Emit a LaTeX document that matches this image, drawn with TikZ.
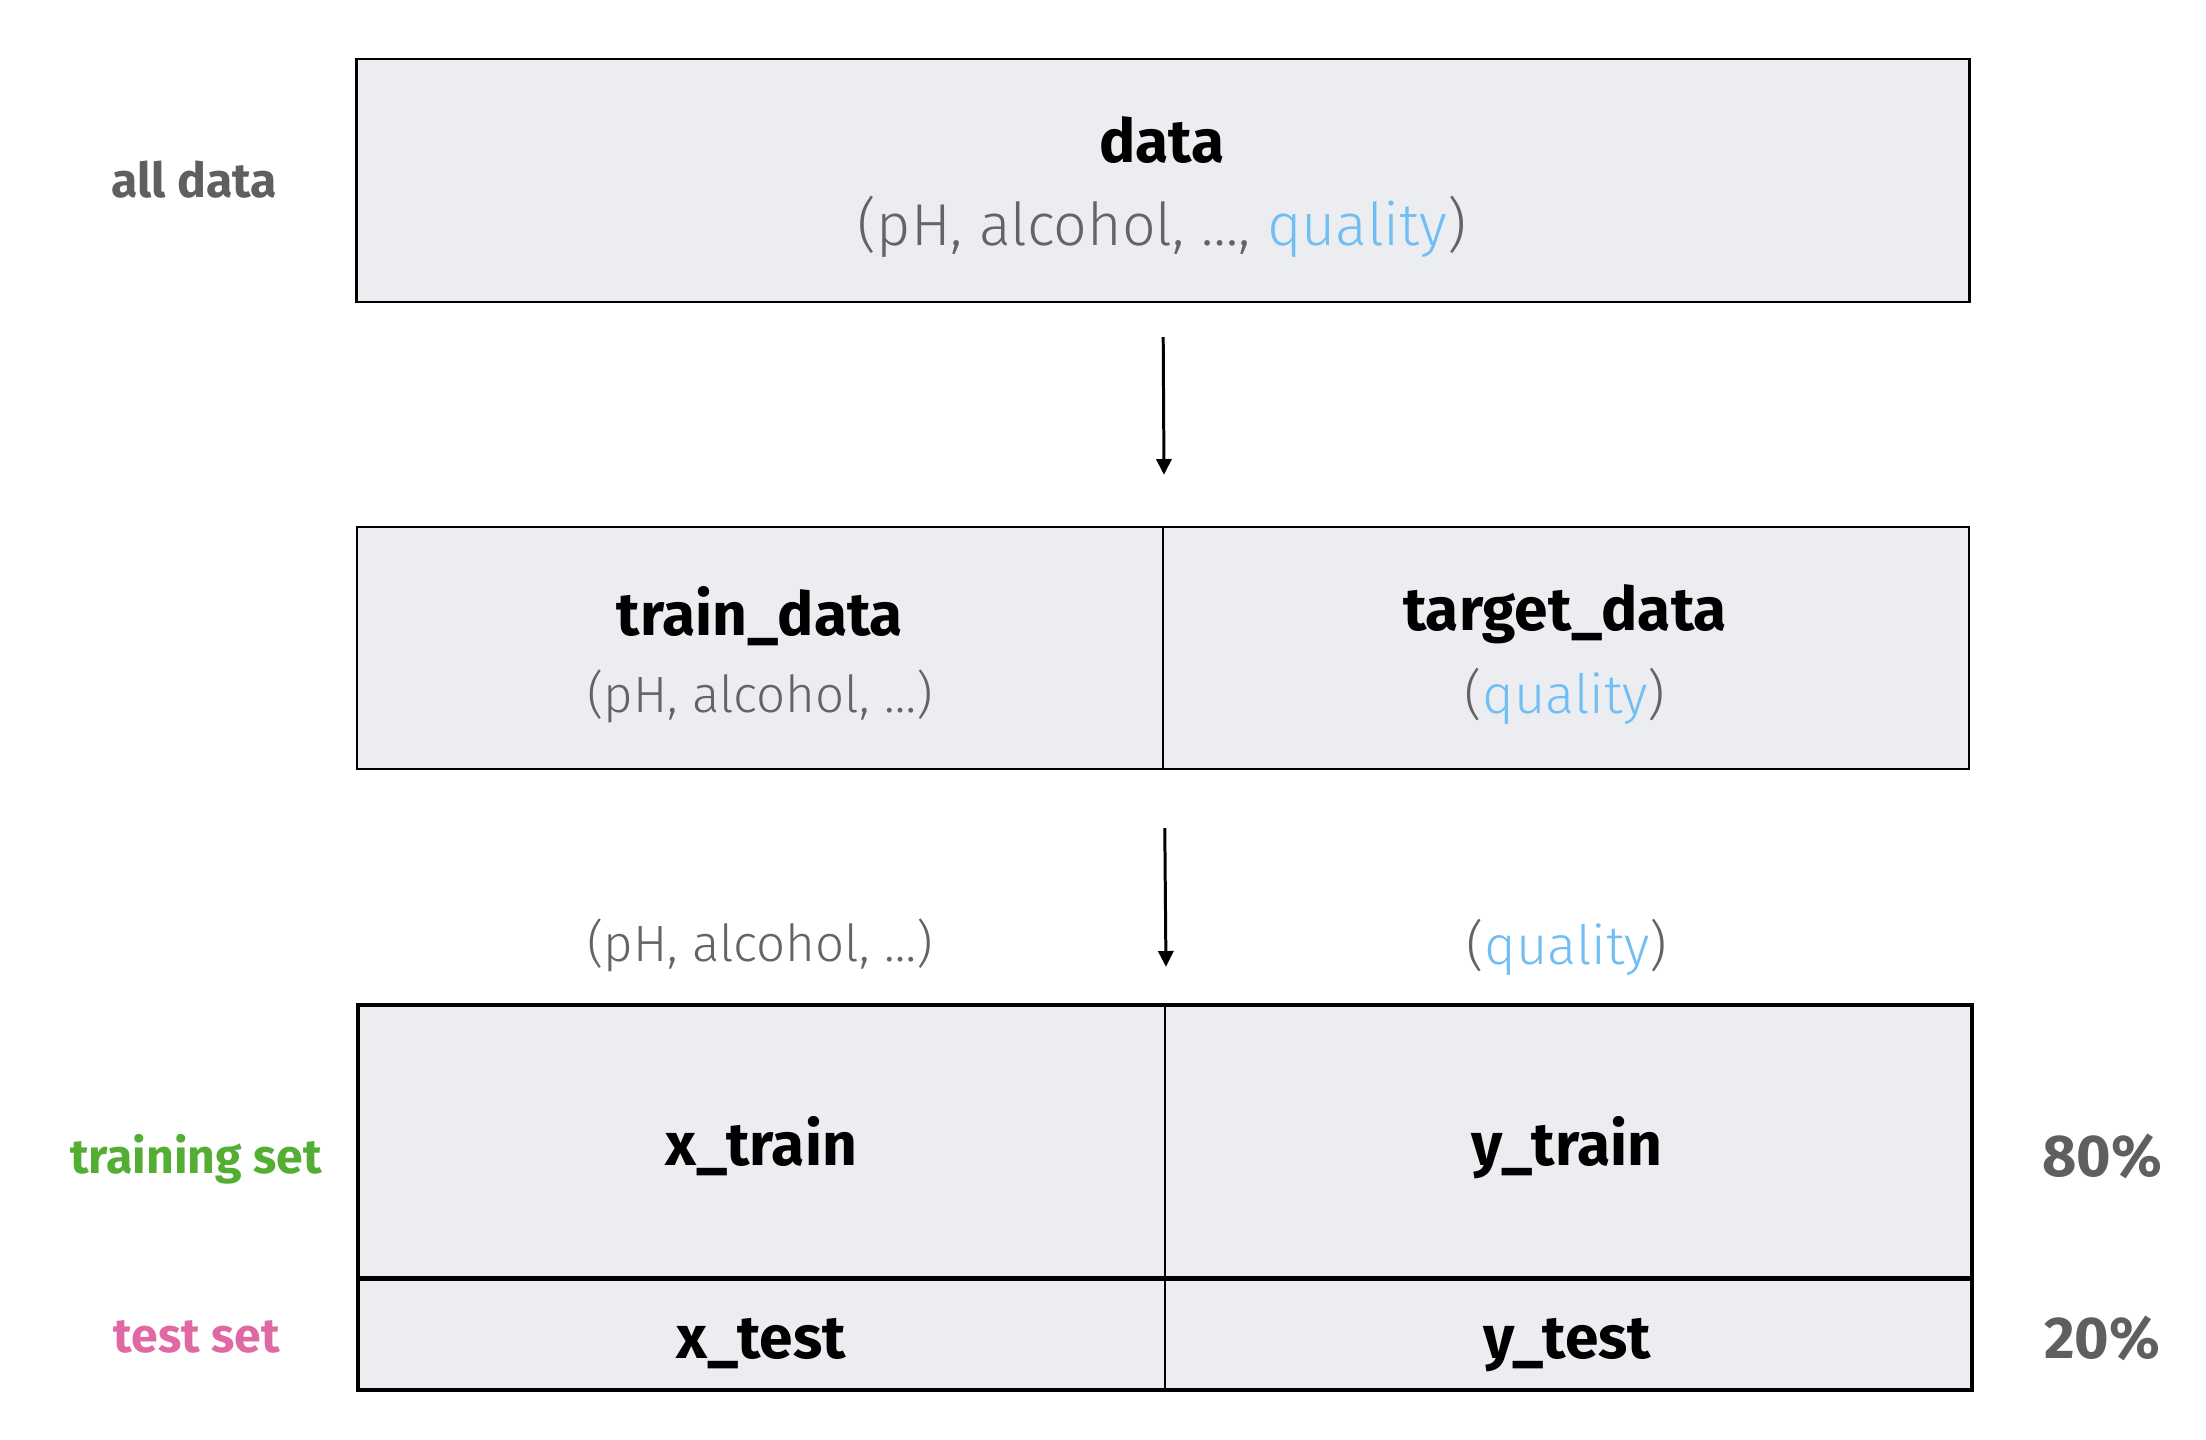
\documentclass[tikz,border=0pt]{standalone}
\usepackage{fontspec}
\setmainfont{Fira Sans}
\newfontfamily\lightfont{Fira Sans Light}
\usetikzlibrary{arrows.meta,positioning}
\definecolor{cellfill}{RGB}{236,237,241}
\definecolor{labgray}{RGB}{95,95,95}
\definecolor{subgray}{RGB}{100,100,100}
\definecolor{qblue}{RGB}{112,190,244}
\definecolor{setgreen}{RGB}{84,174,51}
\definecolor{setpink}{RGB}{224,104,164}
\tikzset{
  cell/.style={draw=black, fill=cellfill, line width=0.6pt, inner sep=0pt},
  title/.style={font=\fontsize{17.2}{20}\selectfont\bfseries, anchor=base},
  sub/.style={font=\fontsize{14.5}{18}\selectfont\lightfont, text=subgray, anchor=base},
  bigsub/.style={sub, font=\fontsize{16.8}{19}\selectfont\lightfont},
  qsub/.style={sub, font=\fontsize{15.4}{19}\selectfont\lightfont},
  side/.style={font=\fontsize{13.7}{16}\selectfont\bfseries, anchor=base},
  pct/.style={font=\fontsize{16.8}{20}\selectfont\bfseries, text=labgray, anchor=base},
  arr/.style={-{Triangle[width=4.3pt,length=4.5pt]}, line width=0.85pt},
}
\newcommand{\qual}{\textcolor{qblue}{quality}}

\begin{document}
\begin{tikzpicture}[x=0.01cm, y=-0.01cm]
  \useasboundingbox (0,0) rectangle (2206,1440);

  % all data
  \node[cell, minimum width=16.12cm, minimum height=2.43cm] (data) at (1163,180.5) {};
  \node[title] (datat) at (1162,163) {data};
  \node[bigsub] (datas) at (1162,246) {(pH, alcohol, …, \qual)};
  \node[side, text=labgray] (alllab) at (194,198) {all data};

  % features / target
  \node[cell, minimum width=8.06cm, minimum height=2.42cm] (train) at (760,648) {};
  \node[cell, minimum width=8.06cm, minimum height=2.42cm] (target) at (1566,648) {};
  \node[title] (traint) at (760,636) {train\_data};
  \node[sub] (trains) at (760,712) {(pH, alcohol, …)};
  \node[title] (targett) at (1565,631) {target\_data};
  \node[qsub] (targets) at (1565,714) {(\qual)};

  % split
  \node[sub] (xlab) at (760,961) {(pH, alcohol, …)};
  \node[qsub] (ylab) at (1567,964) {(\qual)};
  \node[cell, minimum width=8.06cm, minimum height=2.74cm] (xtrain) at (762,1143) {};
  \node[cell, minimum width=8.06cm, minimum height=2.74cm] (ytrain) at (1568,1143) {};
  \node[cell, minimum width=8.06cm, minimum height=1.09cm] (xtest) at (762,1334.5) {};
  \node[cell, minimum width=8.06cm, minimum height=1.09cm] (ytest) at (1568,1334.5) {};
  \draw[line width=0.85pt] (xtrain.north west) rectangle (ytest.south east);
  \draw[line width=1.4pt] (xtest.north west) -- (ytest.north east);
  \node[title] (xtraint) at (761,1165) {x\_train};
  \node[title] (ytraint) at (1567,1165) {y\_train};
  \node[title] (xtestt) at (761,1358) {x\_test};
  \node[title] (ytestt) at (1567,1358) {y\_test};

  \node[side, text=setgreen] (trainlab) at (196,1173) {training set};
  \node[side, text=setpink] (testlab) at (197,1352) {test set};
  \node[pct] (p80) at (2102,1176) {80\%};
  \node[pct] (p20) at (2102,1358) {20\%};

  \draw[arr, shorten <=0.34cm, shorten >=0.51cm] (data.south) -- (train.north east);
  \draw[arr, shorten <=0.58cm, shorten >=0.38cm] (train.south east) -- (xtrain.north east);
\end{tikzpicture}
\end{document}
